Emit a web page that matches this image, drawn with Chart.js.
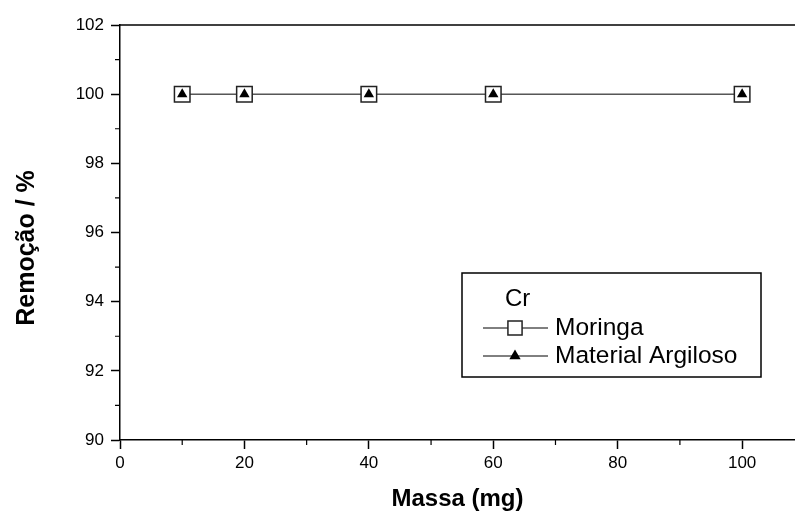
<!DOCTYPE html>
<html>
<head>
<meta charset="utf-8">
<script src="https://cdn.jsdelivr.net/npm/chart.js@4.4.0/dist/chart.umd.min.js"></script>
<style>
html, body { margin: 0; padding: 0; background: #fff; }
</style>
</head>
<body>
<canvas id="remocao" width="795" height="514"></canvas>
<script>
// dados
var massas = [10, 20, 40, 60, 100];
var moringa = [100, 100, 100, 100, 100];
var argiloso = [100, 100, 100, 100, 100];
var xTicks = [0, 20, 40, 60, 80, 100];
var xMinor = [10, 30, 50, 70, 90];
var yTicks = [90, 92, 94, 96, 98, 100, 102];
var yMinor = [91, 93, 95, 97, 99, 101];
var legendTitle = "Cr";

var fonte = "'Liberation Sans', Arial, sans-serif";

var moldura = {
    id: 'moldura',
    afterDraw: function (chart) {
        var ctx = chart.ctx;
        var area = chart.chartArea;
        var sx = chart.scales.x;
        var sy = chart.scales.y;
        ctx.save();
        ctx.strokeStyle = '#000';

        // linha de cima
        ctx.lineWidth = 1.5;
        ctx.beginPath();
        ctx.moveTo(area.left, area.top);
        ctx.lineTo(chart.width, area.top);
        ctx.stroke();

        // ticks menores
        ctx.lineWidth = 1.2;
        ctx.beginPath();
        xMinor.forEach(function (v) {
            var px = sx.getPixelForValue(v);
            ctx.moveTo(px, area.bottom);
            ctx.lineTo(px, area.bottom + 5);
        });
        yMinor.forEach(function (v) {
            var py = sy.getPixelForValue(v);
            ctx.moveTo(area.left, py);
            ctx.lineTo(area.left - 5, py);
        });
        ctx.stroke();

        // titulo do eixo y
        ctx.fillStyle = '#000';
        ctx.font = "bold 25px " + fonte;
        ctx.textAlign = 'center';
        ctx.textBaseline = 'middle';
        ctx.translate(27, 248);
        ctx.rotate(-Math.PI / 2);
        ctx.fillText("Remoção / %", 0, 0);
        ctx.setTransform(1, 0, 0, 1, 0, 0);

        // legenda
        var bx = 462, by = 273, bw = 299, bh = 104;
        ctx.lineWidth = 1.5;
        ctx.strokeRect(bx, by, bw, bh);
        ctx.font = "24px " + fonte;
        ctx.textAlign = 'left';
        ctx.fillText(legendTitle, 505, 299);
        ctx.font = "24.5px " + fonte;
        chart.data.datasets.forEach(function (ds, i) {
            var y = 328 + i * 28;
            ctx.strokeStyle = '#000';
            ctx.lineWidth = 1;
            ctx.beginPath();
            ctx.moveTo(483, y);
            ctx.lineTo(548, y);
            ctx.stroke();
            ctx.fillStyle = ds.pointBackgroundColor;
            ctx.strokeStyle = ds.pointBorderColor;
            ctx.lineWidth = ds.pointBorderWidth;
            Chart.helpers.drawPoint(ctx, {
                pointStyle: ds.pointStyle,
                radius: ds.pointStyle === 'rect' ? 10 : 6.5,
                borderWidth: ds.pointBorderWidth,
                rotation: 0
            }, 515, y);
            ctx.fillStyle = '#000';
            ctx.fillText(ds.label, 555, y);
        });
        ctx.restore();
    }
};

new Chart(document.getElementById('remocao'), {
    type: 'line',
    data: {
        labels: massas,
        datasets: [
            {
                label: 'Moringa',
                data: moringa,
                order: 2,
                borderColor: '#000',
                borderWidth: 1,
                pointStyle: 'rect',
                pointRadius: 11,
                pointBackgroundColor: '#fff',
                pointBorderColor: '#222',
                pointBorderWidth: 1.5
            },
            {
                label: 'Material Argiloso',
                data: argiloso,
                order: 1,
                showLine: false,
                borderColor: '#000',
                borderWidth: 1,
                pointStyle: 'triangle',
                pointRadius: 6,
                pointBackgroundColor: '#000',
                pointBorderColor: '#000',
                pointBorderWidth: 0
            }
        ]
    },
    options: {
        responsive: false,
        animation: false,
        layout: { autoPadding: false, padding: { top: 25, left: 0, right: 0, bottom: 0 } },
        plugins: {
            legend: { display: false },
            tooltip: { enabled: false }
        },
        scales: {
            x: {
                type: 'linear',
                min: 0,
                max: 108.5,
                afterBuildTicks: function (s) { s.ticks = xTicks.map(function (v) { return { value: v }; }); },
                afterFit: function (s) { s.height = 74; s.paddingRight = 0; s.paddingLeft = 0; },
                grid: { drawOnChartArea: false, tickLength: 9, tickWidth: 1.5, tickColor: '#000' },
                border: { color: '#000', width: 1.5 },
                ticks: { color: '#000', font: { family: fonte, size: 17 }, padding: 4, maxRotation: 0 },
                title: { display: true, text: 'Massa (mg)', color: '#000', font: { family: fonte, size: 24, weight: 'bold' }, padding: { top: 2, bottom: 0 } }
            },
            y: {
                min: 90,
                max: 102,
                afterBuildTicks: function (s) { s.ticks = yTicks.map(function (v) { return { value: v }; }); },
                afterFit: function (s) { s.width = 120; },
                grid: { drawOnChartArea: false, tickLength: 9, tickWidth: 1.5, tickColor: '#000' },
                border: { color: '#000', width: 1.5 },
                ticks: { color: '#000', font: { family: fonte, size: 17 }, padding: 7 }
            }
        }
    },
    plugins: [moldura]
});
</script>
</body>
</html>
